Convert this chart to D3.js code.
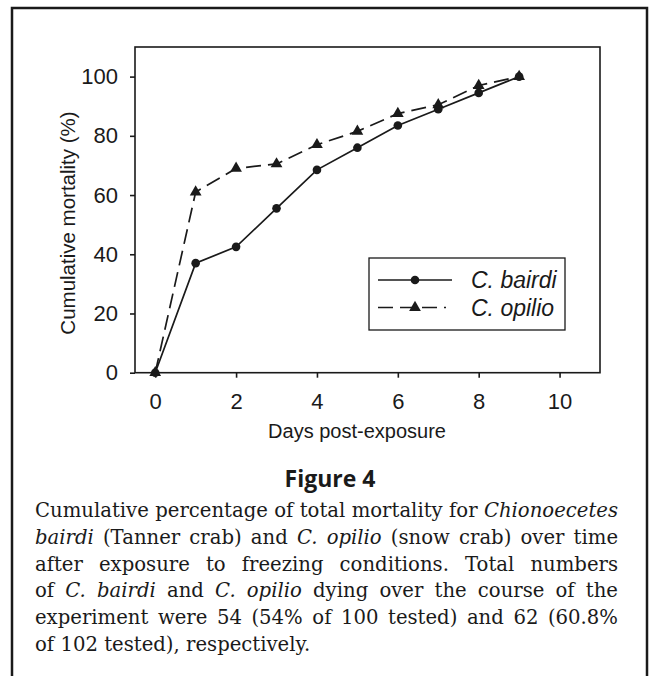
<!DOCTYPE html>
<html>
<head>
<meta charset="utf-8">
<script src="https://cdn.jsdelivr.net/npm/d3@7"></script>
<style>
  body { margin: 0; background: #fff; }
  svg { display: block; }
</style>
</head>
<body>
<svg id="chart" width="650" height="676"></svg>
<script>
// data
var days = [0, 1, 2, 3, 4, 5, 6, 7, 8, 9];
var bairdi = [0, 37, 42.5, 55.5, 68.5, 76, 83.5, 89, 94.5, 100];
var opilio = [0, 61, 69, 70.5, 77, 81.5, 87.5, 90.5, 97, 100];
var seriesNames = ["C. bairdi", "C. opilio"];
var xTicks = [0, 2, 4, 6, 8, 10];
var yTicks = [0, 20, 40, 60, 80, 100];
var captionTitle = "Figure 4";
// _word_ = italic
var captionLines = [
  "Cumulative percentage of total mortality for _Chionoecetes_",
  "_bairdi_ (Tanner crab) and _C._ _opilio_ (snow crab) over time",
  "after exposure to freezing conditions. Total numbers",
  "of _C._ _bairdi_ and _C._ _opilio_ dying over the course of the",
  "experiment were 54 (54% of 100 tested) and 62 (60.8%",
  "of 102 tested), respectively."
];

var ink = "#1a1a1a";
var sans = "'Liberation Sans', Arial, sans-serif";
var svg = d3.select("#chart");

// outer figure frame (runs off the right/bottom)
svg.append("rect")
  .attr("x", 12).attr("y", 8)
  .attr("width", 635).attr("height", 720)
  .attr("fill", "none").attr("stroke", ink).attr("stroke-width", 2.5);

var plot = {left: 135, right: 600, top: 47, bottom: 372.7};

var x = d3.scaleLinear().domain([-0.5, 11]).range([plot.left, plot.right]);
var y = d3.scaleLinear().domain([0, 110]).range([plot.bottom, plot.top]);

// plot border
svg.append("rect")
  .attr("x", plot.left).attr("y", plot.top)
  .attr("width", plot.right - plot.left).attr("height", plot.bottom - plot.top)
  .attr("fill", "none").attr("stroke", ink).attr("stroke-width", 1.6);

// axes
var xAxis = svg.append("g")
  .attr("transform", "translate(0," + plot.bottom + ")")
  .call(d3.axisBottom(x).tickValues(xTicks).tickSize(5).tickSizeOuter(0).tickPadding(16));
var yAxis = svg.append("g")
  .attr("transform", "translate(" + plot.left + ",0)")
  .call(d3.axisLeft(y).tickValues(yTicks).tickSize(5).tickSizeOuter(0).tickPadding(12));

[xAxis, yAxis].forEach(function(g) {
  g.select(".domain").remove();
  g.selectAll("line").attr("stroke", ink).attr("stroke-width", 1.6);
  g.selectAll("text").attr("fill", ink)
    .style("font-family", sans).style("font-size", "22px");
});

// axis titles
svg.append("text")
  .attr("x", 357).attr("y", 438)
  .attr("text-anchor", "middle")
  .style("font-family", sans).style("font-size", "20px")
  .attr("fill", ink)
  .text("Days post-exposure");

svg.append("text")
  .attr("transform", "translate(75,223) rotate(-90)")
  .attr("text-anchor", "middle")
  .style("font-family", sans).style("font-size", "20.5px")
  .attr("fill", ink)
  .text("Cumulative mortality (%)");

// lines
var line = d3.line()
  .x(function(d) { return x(d.day); })
  .y(function(d) { return y(d.v); });

var bData = days.map(function(d, i) { return {day: d, v: bairdi[i]}; });
var oData = days.map(function(d, i) { return {day: d, v: opilio[i]}; });

svg.append("path").datum(oData)
  .attr("d", line)
  .attr("fill", "none").attr("stroke", ink).attr("stroke-width", 1.7)
  .attr("stroke-dasharray", "15,7");

svg.append("path").datum(bData)
  .attr("d", line)
  .attr("fill", "none").attr("stroke", ink).attr("stroke-width", 1.7);

var tri = d3.symbol().type(d3.symbolTriangle).size(60);

svg.selectAll(".tri").data(oData).enter()
  .append("path")
  .attr("class", "tri")
  .attr("d", tri)
  .attr("transform", function(d) { return "translate(" + x(d.day) + "," + y(d.v) + ")"; })
  .attr("fill", ink);

svg.selectAll(".dot").data(bData).enter()
  .append("circle")
  .attr("class", "dot")
  .attr("cx", function(d) { return x(d.day); })
  .attr("cy", function(d) { return y(d.v); })
  .attr("r", 4.3)
  .attr("fill", ink);

// legend
var legend = svg.append("g");
legend.append("rect")
  .attr("x", 369).attr("y", 258)
  .attr("width", 196).attr("height", 72)
  .attr("fill", "#fff").attr("stroke", ink).attr("stroke-width", 1.3);

var rows = [
  {name: seriesNames[0], y: 280, dash: null, x2: 452},
  {name: seriesNames[1], y: 307.5, dash: "15,7", x2: 446}
];
rows.forEach(function(r, i) {
  legend.append("line")
    .attr("x1", 378).attr("x2", r.x2)
    .attr("y1", r.y).attr("y2", r.y)
    .attr("stroke", ink).attr("stroke-width", 1.7)
    .attr("stroke-dasharray", r.dash);
  if (i == 0) {
    legend.append("circle").attr("cx", 415).attr("cy", r.y).attr("r", 4.3).attr("fill", ink);
  } else {
    legend.append("path").attr("d", tri)
      .attr("transform", "translate(415," + r.y + ")").attr("fill", ink);
  }
  legend.append("text")
    .attr("x", 471).attr("y", r.y + 8)
    .style("font-family", sans).style("font-size", "23px").style("font-style", "italic")
    .attr("fill", ink)
    .text(r.name);
});

// caption
svg.append("text")
  .attr("x", 330).attr("y", 487)
  .attr("text-anchor", "middle")
  .style("font-family", "'Open Sans', sans-serif").style("font-size", "23px").style("font-weight", "700")
  .attr("fill", ink)
  .text(captionTitle);

var capLeft = 35, capRight = 618, capW = capRight - capLeft;
var serif = "'DejaVu Serif', serif";

function parseLine(s) {
  return s.split(" ").map(function(w) {
    var it = /^_.*_$/.test(w);
    return {t: it ? w.slice(1, -1) : w, it: it};
  });
}
var parsed = captionLines.map(parseLine);

var probe = svg.append("text").style("font-family", serif);
function measure(w, fs) {
  probe.style("font-size", fs + "px").style("font-style", w.it ? "italic" : "normal").text(w.t);
  return probe.node().getComputedTextLength();
}

// size the font so the tightest justified line has normal word spacing
var fs = 18;
var maxNat = d3.max(parsed.slice(0, 5), function(ws) {
  return d3.sum(ws, function(w) { return measure(w, fs); }) + (ws.length - 1) * 0.32 * fs;
});
fs = Math.min(20, fs * capW / maxNat);
var spaceW = 0.32 * fs;

var cap = svg.append("g").style("font-family", serif).style("font-size", fs + "px").attr("fill", ink);
parsed.forEach(function(ws, li) {
  var widths = ws.map(function(w) { return measure(w, fs); });
  var last = li == parsed.length - 1;
  var gap = last ? spaceW : (capW - d3.sum(widths)) / (ws.length - 1);
  var t = cap.append("text").attr("y", 517 + li * 26.8);
  var cx = capLeft;
  ws.forEach(function(w, i) {
    t.append("tspan")
      .attr("x", cx)
      .style("font-style", w.it ? "italic" : "normal")
      .text(w.t);
    cx += widths[i] + gap;
  });
});
probe.remove();
</script>
</body>
</html>
